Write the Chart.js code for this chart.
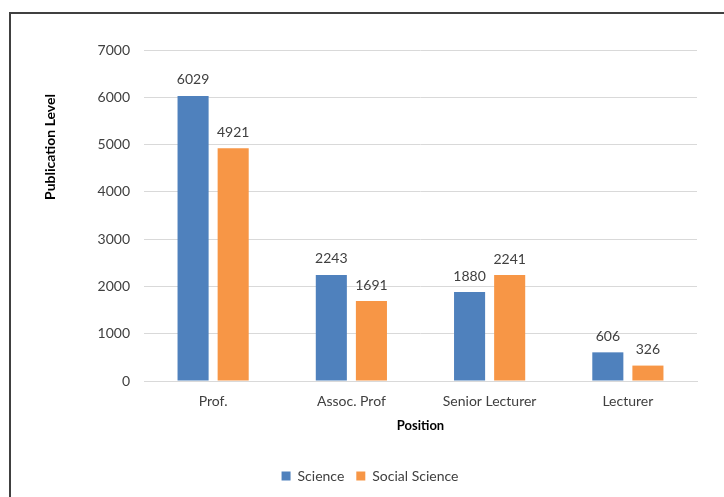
<!DOCTYPE html>
<html>
<head>
<meta charset="utf-8">
<script src="https://cdn.jsdelivr.net/npm/chart.js@4"></script>
<style>
    html, body { margin: 0; padding: 0; background: #fff; }
    #wrap { position: relative; width: 724px; height: 497px; overflow: hidden; }
    #frame { position: absolute; left: 9px; top: 12px; width: 800px; height: 600px; border: 2px solid #404040; box-sizing: border-box; }
    canvas { position: absolute; left: 0; top: 0; }
</style>
</head>
<body>
<div id="wrap">
    <div id="frame"></div>
    <canvas id="chart" width="724" height="497"></canvas>
</div>
<script>
// Publication level by position
const positions = ['Prof.', 'Assoc. Prof', 'Senior Lecturer', 'Lecturer'];
const scienceValues = [6029, 2243, 1880, 606];
const socialScienceValues = [4921, 1691, 2241, 326];
const yTicks = [0, 1000, 2000, 3000, 4000, 5000, 6000, 7000];

const fontFamily = 'Lato, "Open Sans", sans-serif';

// Draw the value above each bar, plus the y axis title (sits above centre in the original)
const barLabels = {
    id: 'barLabels',
    afterDatasetsDraw(chart) {
        const ctx = chart.ctx;
        ctx.save();
        ctx.font = '14px ' + fontFamily;
        ctx.fillStyle = '#404040';
        ctx.textAlign = 'center';
        ctx.textBaseline = 'middle';
        chart.data.datasets.forEach((ds, i) => {
            chart.getDatasetMeta(i).data.forEach((bar, j) => {
                ctx.fillText(ds.data[j], bar.x, bar.y - 16);
            });
        });

        ctx.translate(50, 147);
        ctx.rotate(-Math.PI / 2);
        ctx.font = 'bold 14px ' + fontFamily;
        ctx.fillStyle = '#000';
        ctx.fillText('Publication Level', 0, 0);
        ctx.restore();
    }
};

new Chart(document.getElementById('chart'), {
    type: 'bar',
    data: {
        labels: positions,
        datasets: [
            {
                label: 'Science',
                data: scienceValues,
                backgroundColor: '#4F81BD',
                barPercentage: 0.775,
                categoryPercentage: 0.58
            },
            {
                label: 'Social Science',
                data: socialScienceValues,
                backgroundColor: '#F79646',
                barPercentage: 0.775,
                categoryPercentage: 0.58
            }
        ]
    },
    options: {
        responsive: false,
        animation: false,
        layout: { padding: { left: 43, right: 27, top: 50, bottom: 4 } },
        plugins: {
            legend: {
                position: 'bottom',
                labels: {
                    boxWidth: 9,
                    boxHeight: 9,
                    padding: 12,
                    color: '#404040',
                    font: { family: fontFamily, size: 14 }
                }
            },
            tooltip: { enabled: false }
        },
        scales: {
            x: {
                grid: { display: false, drawTicks: false },
                border: { display: true, color: '#d9d9d9', width: 1 },
                ticks: {
                    padding: 12,
                    color: '#404040',
                    font: { family: fontFamily, size: 14 }
                },
                title: {
                    display: true,
                    text: 'Position',
                    color: '#000',
                    padding: { top: 4, bottom: 23 },
                    font: { family: fontFamily, size: 13, weight: 'bold' }
                },
                afterFit: (scale) => { scale.height = 76; }
            },
            y: {
                min: 0,
                max: 7000,
                afterBuildTicks: (scale) => { scale.ticks = yTicks.map(v => ({ value: v })); },
                grid: { color: '#d9d9d9', lineWidth: 1, drawTicks: false },
                border: { display: false },
                ticks: {
                    padding: 14,
                    color: '#404040',
                    font: { family: fontFamily, size: 14 },
                    callback: (value) => String(value)
                },
                afterFit: (scale) => { scale.width = 101; }
            }
        }
    },
    plugins: [barLabels]
});
</script>
</body>
</html>
